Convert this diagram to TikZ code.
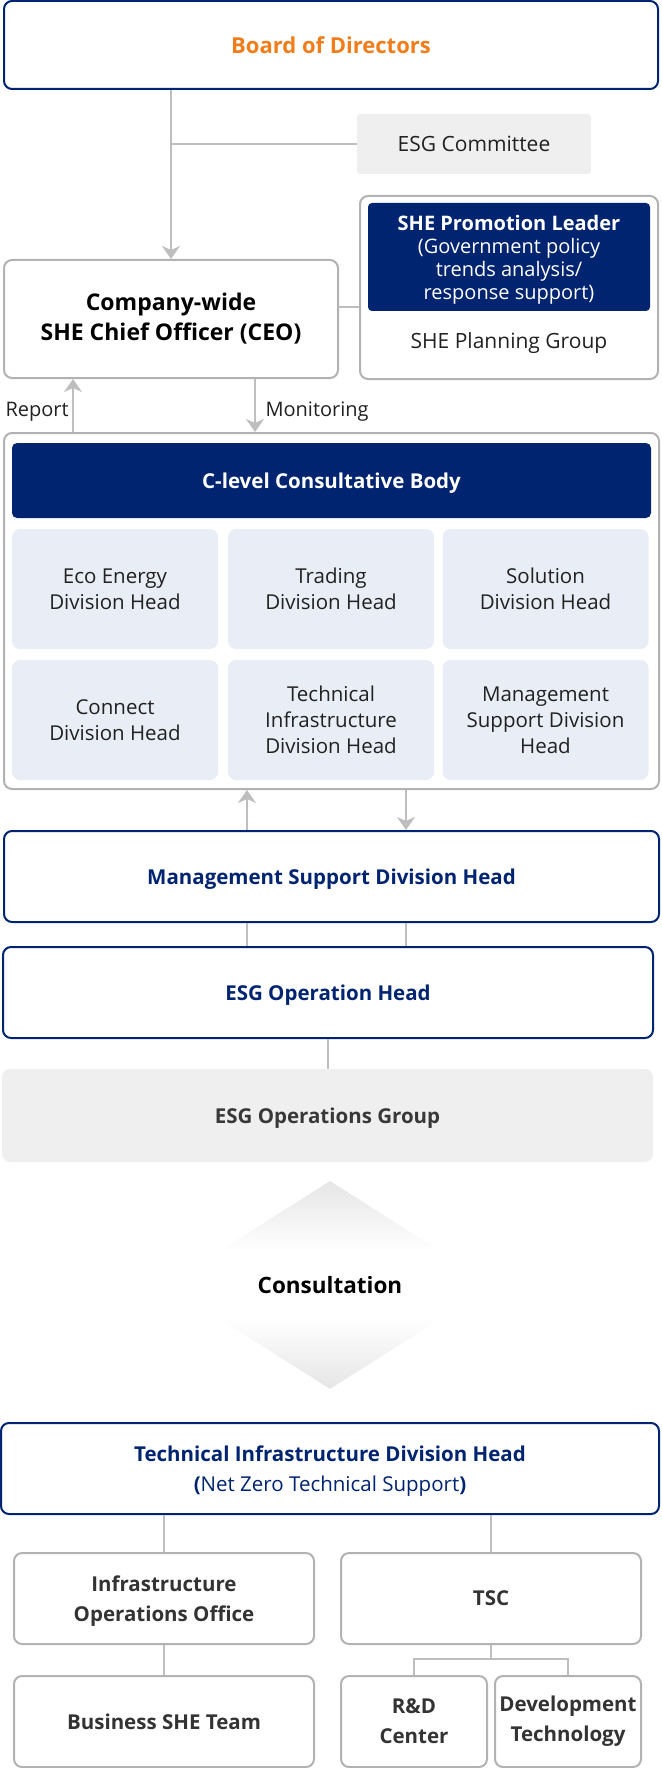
\documentclass[tikz,border=0pt]{standalone}
\usepackage{fontspec}
\setmainfont{Open Sans}
\usetikzlibrary{positioning, arrows.meta, shapes.geometric, calc}

\definecolor{navy}{RGB}{0,36,112}
\definecolor{orgorange}{RGB}{240,125,26}
\definecolor{linegray}{RGB}{190,190,190}
\definecolor{boxgray}{RGB}{178,178,178}
\definecolor{panelgray}{RGB}{239,239,239}
\definecolor{cellblue}{RGB}{233,237,245}
\definecolor{textgray}{RGB}{51,51,51}

\pgfdeclareverticalshading{consultshade}{100bp}{color(0bp)=(black!10); color(25bp)=(black!10); color(42bp)=(white); color(58bp)=(white); color(75bp)=(black!10); color(100bp)=(black!10)}

\begin{document}
\begin{tikzpicture}[
    x=1pt, y=-1pt,
    navybox/.style={draw=navy, line width=2pt, rounded corners=8pt, fill=white},
    graybox/.style={draw=boxgray, line width=2pt, rounded corners=8pt, fill=white},
    headbox/.style={navybox, text=navy, text depth=0pt, font=\bfseries\fontsize{20.5}{26}\selectfont},
    cell/.style={fill=cellblue, rounded corners=8pt, minimum width=206pt, minimum height=120pt, align=center, text=black!87, font=\fontsize{20.5}{26}\selectfont},
    lowbox/.style={graybox, minimum height=91pt, inner sep=2pt, align=center, text=textgray, font=\bfseries\fontsize{20.5}{30}\selectfont},
    link/.style={draw=linegray, line width=2pt},
    arr/.style={link, -{Stealth[length=13pt, width=18pt, inset=4pt]}}
]
    \useasboundingbox (0,0) rectangle (661,1768);

    % Top level
    \node[navybox, minimum width=654pt, minimum height=88pt, text=orgorange, font=\bfseries\fontsize{22}{26}\selectfont] (board) at (331,45) {Board of Directors};
    \node[fill=panelgray, rounded corners=3pt, minimum width=234pt, minimum height=60pt, text=black!87, font=\fontsize{21}{26}\selectfont] (esgcom) at (474,144) {ESG Committee};

    \node[graybox, minimum width=334pt, minimum height=118pt, align=center, font=\bfseries\fontsize{23}{30}\selectfont] (ceo) at (171,319) {Company-wide\\SHE Chief Officer (CEO)};

    % SHE planning group with its leader
    \node[graybox, minimum width=298pt, minimum height=183pt] (shegroup) at (509,287.5) {};
    \node[fill=navy, rounded corners=4pt, minimum width=282pt, minimum height=108pt, align=center, text=white, text depth=0pt, font=\fontsize{20}{23}\selectfont] (shelead) at (509,257) {\textbf{SHE Promotion Leader}\\(Government policy\\trends analysis/\\response support)};
    \node[text=black!87, text depth=0pt, font=\fontsize{21}{26}\selectfont] (sheplan) at (509,341) {SHE Planning Group};

    \node[anchor=west, text=black!87, text depth=0pt, font=\fontsize{20}{24}\selectfont] (reportlbl) at (2,409) {Report};
    \node[anchor=west, text=black!87, text depth=0pt, font=\fontsize{20}{24}\selectfont] (monlbl) at (262,409) {Monitoring};

    % C-level consultative body
    \node[draw=boxgray, line width=2pt, rounded corners=8pt, minimum width=655pt, minimum height=356pt] (body) at (331.5,611) {};
    \node[fill=navy, rounded corners=5pt, minimum width=639pt, minimum height=75pt, text=white, text depth=0pt, font=\bfseries\fontsize{20.5}{26}\selectfont] (clevel) at (331.5,480.5) {C-level Consultative Body};

    \node[cell] (eco) at (115,589) {Eco Energy\\Division Head};
    \node[cell] (trading) at (331,589) {Trading\\Division Head};
    \node[cell] (solution) at (545.5,589) {Solution\\Division Head};
    \node[cell] (connect) at (115,720) {Connect\\Division Head};
    \node[cell] (techinfra) at (331,720) {Technical\\Infrastructure\\Division Head};
    \node[cell] (mgmt) at (545.5,720) {Management\\Support Division\\Head};

    % ESG operation line
    \node[headbox, minimum width=655pt, minimum height=91pt] (msdh) at (331.5,876.5) {Management Support Division Head};
    \node[headbox, minimum width=650pt, minimum height=91pt] (esgop) at (328,992.5) {ESG Operation Head};
    \node[fill=panelgray, rounded corners=8pt, minimum width=651pt, minimum height=93pt, text=black!78, text depth=0pt, font=\bfseries\fontsize{20.5}{26}\selectfont] (esgops) at (327.5,1115.5) {ESG Operations Group};

    \node[diamond, shade, shading=consultshade, minimum width=328pt, minimum height=208pt, inner sep=0pt, font=\bfseries\fontsize{22.5}{26}\selectfont] (consult) at (330,1285) {Consultation};

    % Technical infrastructure side
    \node[navybox, minimum width=658pt, minimum height=91pt, align=center, text=navy, text depth=0pt, font=\fontsize{20.5}{30}\selectfont] (tidh) at (330,1468.5) {\textbf{Technical Infrastructure Division Head}\\\textbf{(}Net Zero Technical Support\textbf{)}};

    \node[lowbox, minimum width=300pt, text depth=0pt] (infra) at (164,1598.5) {Infrastructure\\Operations Office};
    \node[lowbox, minimum width=300pt] (tsc) at (491,1598.5) {TSC};
    \node[lowbox, minimum width=300pt] (biz) at (164,1721.5) {Business SHE Team};
    \node[lowbox, minimum width=146pt] (rnd) at (414,1721.5) {R\&D\\Center};
    \node[lowbox, minimum width=146pt] (devtech) at (568,1721.5) {Development\\Technology};

    % Connectors
    \coordinate (reportx) at (73,0);
    \coordinate (monx) at (255,0);
    \coordinate (upx) at (247,0);
    \coordinate (downx) at (406,0);

    \draw[arr] (board.south -| ceo.north) -- (ceo.north);
    \draw[link] (esgcom.west) -- (esgcom.west -| ceo.north);
    \draw[link] ([yshift=12pt]ceo.east) -- ([yshift=12pt]ceo.east -| shegroup.west);
    \draw[arr] (body.north -| reportx) -- (ceo.south -| reportx);
    \draw[arr] (ceo.south -| monx) -- (body.north -| monx);
    \draw[arr] (msdh.north -| upx) -- (body.south -| upx);
    \draw[arr] (body.south -| downx) -- (msdh.north -| downx);
    \draw[link] (msdh.south -| upx) -- (esgop.north -| upx);
    \draw[link] (msdh.south -| downx) -- (esgop.north -| downx);
    \draw[link] (esgop.south) -- (esgop.south |- esgops.north);
    \draw[link] (tidh.south -| infra.north) -- (infra.north);
    \draw[link] (tidh.south -| tsc.north) -- (tsc.north);
    \draw[link] (infra.south) -- (biz.north);
    \draw[link] (tsc.south) -- ++(0,14) coordinate (split);
    \draw[link] (rnd.north) |- (split) -| (devtech.north);
\end{tikzpicture}
\end{document}
